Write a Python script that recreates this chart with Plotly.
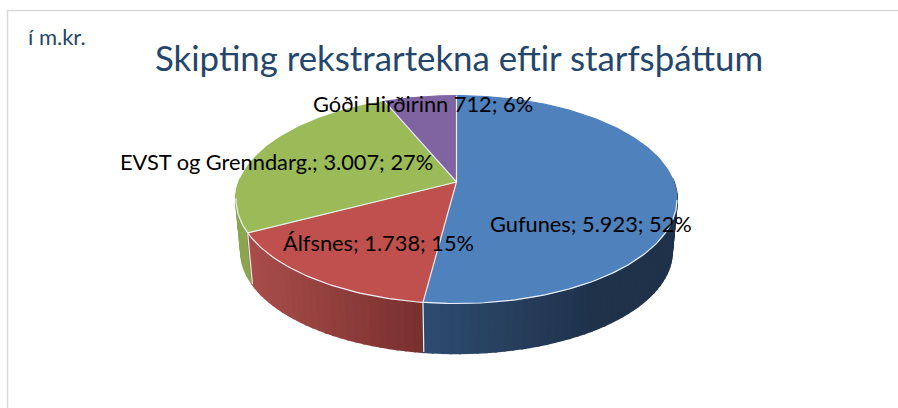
import math
import plotly.graph_objects as go

# ---- data ----
names = ["Gufunes", "Álfsnes", "EVST og Grenndarg.", "Góði Hirðirinn"]
values = [5923, 1738, 3007, 712]
value_labels = ["5.923", "1.738", "3.007", "712"]
percents = [52, 15, 27, 6]
separators = ["; ", "; ", "; ", " "]
title_text = "Skipting rekstrartekna eftir starfsþáttum"
unit_text = "í m.kr."
top_colors = ["#4f81bd", "#c0504d", "#9bbb59", "#8064a2"]
wall_left = ["#2e4c70", "#a84d4a", "#8aa650", "#6a5488"]
wall_right = ["#1f324a", "#78302e", "#8aa650", "#6a5488"]
label_pos = [(488, 223), (281, 242), (118, 161), (311, 103)]

# ---- projection of the tilted disc (canvas pixel units) ----
CX, CY, A, B, P = 456.5, 182.0, 217.3, 101.0, 0.169
SHRINK, DEPTH = 0.977, 52.5


def rim(deg, bottom=False):
    t = math.radians(deg)
    w = 1 + P * math.cos(t)
    s = SHRINK if bottom else 1.0
    x = CX + s * A * math.sin(t) / w
    y = CY + (DEPTH if bottom else 0) - s * B * math.cos(t) / w
    return x, y


def mix(c1, c2, f):
    f = max(0.0, min(1.0, f))
    a = [int(c1[i:i + 2], 16) for i in (1, 3, 5)]
    b = [int(c2[i:i + 2], 16) for i in (1, 3, 5)]
    return "rgb(%d,%d,%d)" % tuple(round(p + (q - p) * f) for p, q in zip(a, b))


total = sum(values)
edges = [0.0]
for v in values:
    edges.append(edges[-1] + 360.0 * v / total)

fig = go.Figure()
WALL_FROM, WALL_TO, STEP = 88.0, 272.0, 2.0

# side walls, drawn from the silhouette towards the front
quads = []
for i in range(4):
    lo, hi = max(edges[i], WALL_FROM), min(edges[i + 1], WALL_TO)
    if hi <= lo:
        continue
    n = max(1, int((hi - lo) / STEP))
    for k in range(n):
        a0 = lo + (hi - lo) * k / n
        a1 = lo + (hi - lo) * (k + 1) / n
        quads.append((i, a0, a1))
quads.sort(key=lambda q: -abs((q[1] + q[2]) / 2 - 180))
for i, a0, a1 in quads:
    pts = [rim(a0), rim(a1), rim(a1, True), rim(a0, True), rim(a0)]
    xm = (pts[0][0] + pts[1][0]) / 2
    if i == 0:
        f = (xm - 423) / 170.0
    else:
        f = (xm - 250) / 173.0
    col = mix(wall_left[i], wall_right[i], f)
    fig.add_trace(go.Scatter(x=[p[0] for p in pts], y=[p[1] for p in pts], mode="lines",
                             fill="toself", fillcolor=col, line=dict(color=col, width=2),
                             hoverinfo="skip", showlegend=False))

# light seams on the wall
for e in edges[1:3]:
    p, q = rim(e), rim(e, True)
    fig.add_trace(go.Scatter(x=[p[0], q[0]], y=[p[1], q[1]], mode="lines",
                             line=dict(color="#f0f0f0", width=1.2),
                             hoverinfo="skip", showlegend=False))

# top face
for i in range(4):
    n = max(4, int(edges[i + 1] - edges[i]))
    arc = [rim(edges[i] + (edges[i + 1] - edges[i]) * k / n) for k in range(n + 1)]
    pts = [(CX, CY)] + arc + [(CX, CY)]
    fig.add_trace(go.Scatter(x=[p[0] for p in pts], y=[p[1] for p in pts], mode="lines",
                             fill="toself", fillcolor=top_colors[i],
                             line=dict(color=top_colors[i], width=1.2),
                             hoverinfo="skip", showlegend=False, name=names[i]))

# light spokes between the slices, then the light front rim
for e in edges[:4]:
    p = rim(e)
    fig.add_trace(go.Scatter(x=[CX, p[0]], y=[CY, p[1]], mode="lines",
                             line=dict(color="#eef1f5", width=1.2),
                             hoverinfo="skip", showlegend=False))
front = [rim(a) for a in range(100, 262)]
fig.add_trace(go.Scatter(x=[p[0] for p in front], y=[p[1] for p in front], mode="lines",
                         line=dict(color="#eef1f5", width=1.2),
                         hoverinfo="skip", showlegend=False))

annotations = [
    dict(x=153, y=57, text=title_text, showarrow=False, xanchor="left", yanchor="middle",
         font=dict(family="Lato", size=34.8, color="#24466b")),
    dict(x=26, y=36, text=unit_text, showarrow=False, xanchor="left", yanchor="middle",
         font=dict(family="Lato", size=22, color="#24466b")),
]
for i in range(4):
    text = f"{names[i]}{separators[i]}{value_labels[i]}; {percents[i]}%"
    annotations.append(dict(x=label_pos[i][0], y=label_pos[i][1], text=text, showarrow=False,
                            xanchor="left", yanchor="middle",
                            font=dict(family="Lato", size=21.8, color="#000000")))

fig.update_layout(
    width=898, height=408, margin=dict(l=0, r=0, t=0, b=0, pad=0),
    paper_bgcolor="white", plot_bgcolor="white", showlegend=False,
    xaxis=dict(range=[0, 898], visible=False, fixedrange=True),
    yaxis=dict(range=[408, 0], visible=False, fixedrange=True),
    annotations=annotations,
    shapes=[
        dict(type="line", x0=7.5, x1=898, y0=10.5, y1=10.5, line=dict(color="#d9d9d9", width=1.5)),
        dict(type="line", x0=7.5, x1=7.5, y0=10.5, y1=408, line=dict(color="#d9d9d9", width=1.5)),
    ],
)
fig.write_html("out.html", config=dict(displayModeBar=False),
               post_script="document.body.style.margin='0';document.documentElement.style.overflow='hidden';")
